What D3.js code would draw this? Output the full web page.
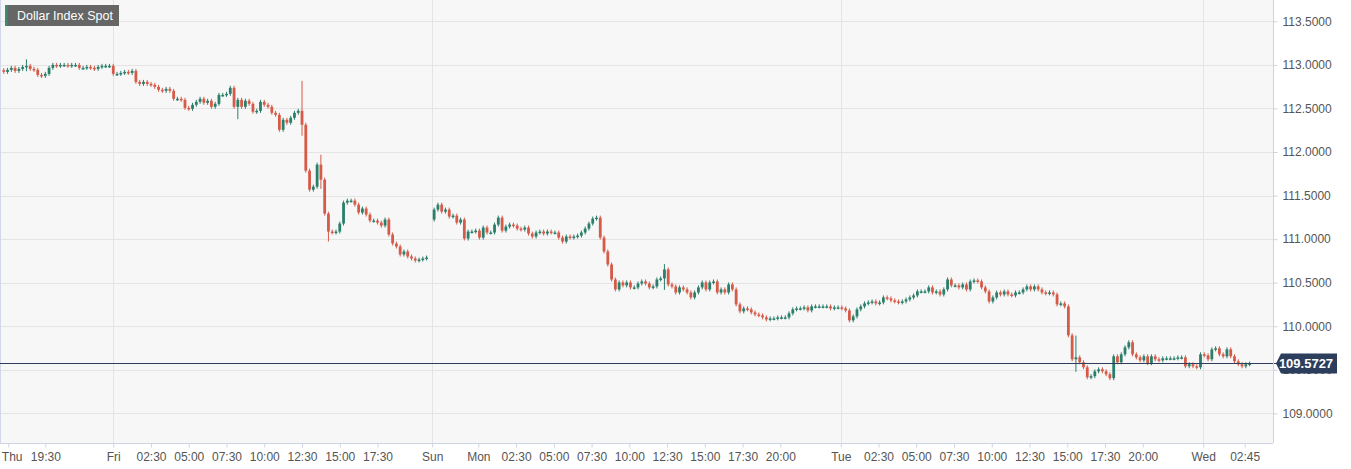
<!DOCTYPE html>
<html>
<head>
<meta charset="utf-8">
<script src="https://cdn.jsdelivr.net/npm/d3@7"></script>
<style>
  body { margin: 0; background: #fff; }
  svg { display: block; font-family: "Liberation Sans", Arial, sans-serif; }
</style>
</head>
<body>
<svg id="chart" width="1351" height="469"></svg>
<script>
// closes, 15 min candles. Thu evening + Fri (slots -29..83)
const thuCloses = [112.92,112.943,112.966,112.931,112.954,112.977,112.989,112.954,112.943,112.885,
  112.874,112.897,112.966,113.0,112.989,113.0,113.0,112.989,113.0,113.0,
  112.966,112.966,112.977,112.966,112.954,112.977,112.989,112.989,112.989];
const friCloses = [112.897,112.897,112.908,112.92,112.908,112.931,112.805,112.782,112.805,112.782,
  112.771,112.748,112.714,112.702,112.725,112.702,112.611,112.611,112.599,112.507,
  112.496,112.542,112.576,112.611,112.565,112.588,112.519,112.553,112.656,112.656,
  112.668,112.737,112.519,112.599,112.519,112.588,112.553,112.462,112.473,112.576,
  112.542,112.519,112.45,112.427,112.255,112.37,112.336,112.393,112.45,112.473,
  112.313,111.786,111.568,111.602,111.855,111.683,111.293,111.087,111.076,111.087,
  111.179,111.419,111.442,111.442,111.396,111.305,111.351,111.282,111.213,111.213,
  111.19,111.156,111.225,111.053,110.95,110.915,110.824,110.858,110.801,110.778,
  110.755,110.766,110.778,110.789];
// Sun evening .. Wed morning
const weekCloses = [111.339,111.396,111.316,111.339,111.259,111.270,111.190,111.225,111.007,111.087,
  111.087,111.098,111.018,111.133,111.076,111.076,111.167,111.247,111.098,111.144,
  111.167,111.156,111.121,111.110,111.133,111.064,111.030,111.076,111.087,111.064,
  111.087,111.076,111.076,111.018,110.972,111.030,111.018,111.030,111.041,111.076,
  111.121,111.179,111.236,111.247,111.018,110.858,110.709,110.537,110.423,110.503,
  110.469,110.503,110.446,110.446,110.491,110.514,110.491,110.446,110.457,110.537,
  110.549,110.652,110.480,110.457,110.388,110.446,110.423,110.388,110.331,110.388,
  110.446,110.503,110.423,110.503,110.514,110.388,110.423,110.388,110.480,110.423,
  110.251,110.171,110.205,110.194,110.159,110.136,110.125,110.102,110.079,110.090,
  110.090,110.102,110.102,110.102,110.148,110.194,110.205,110.205,110.217,110.182,
  110.228,110.228,110.228,110.228,110.228,110.205,110.217,110.217,
  110.205,110.182,110.068,110.113,110.194,110.228,110.262,110.274,110.285,110.262,
  110.274,110.331,110.320,110.297,110.285,110.274,110.285,110.308,110.331,110.354,
  110.400,110.400,110.400,110.446,110.388,110.400,110.365,110.423,110.537,110.469,
  110.469,110.446,110.480,110.423,110.514,110.526,110.514,110.446,110.400,110.285,
  110.331,110.388,110.365,110.400,110.365,110.354,110.388,110.388,110.423,110.457,
  110.423,110.457,110.423,110.388,110.377,110.388,110.365,110.251,110.262,110.228,
  109.896,109.621,109.643,109.587,109.529,109.415,109.427,109.483,109.506,109.483,
  109.449,109.404,109.655,109.587,109.678,109.758,109.816,109.678,109.643,109.609,
  109.655,109.576,109.655,109.621,109.609,109.632,109.632,109.632,109.632,109.643,
  109.643,109.541,109.564,109.541,109.529,109.678,109.666,109.621,109.735,109.747,
  109.678,109.655,109.735,109.655,109.598,109.564,109.541,109.564,109.5727];
const firstOpen = 112.94;
const sunOpen = 111.225;
// notable wicks: [candle index, high, low]
const wicks = [[79, 112.794, 112.21], [84, 111.946, 111.60], [86, 111.20, 110.995],
  [6, 113.04, 112.95], [62, 112.55, 112.40], [112 + 62, 110.69, 110.44], [112 + 171, 109.87, 109.5]];
const lastPrice = 109.5727;
const priceTicks = [109, 109.5, 110, 110.5, 111, 111.5, 112, 112.5, 113, 113.5];
const timeTicks = [[-27.8,"Thu"],[-18,"19:30"],[0,"Fri"],[10,"02:30"],[20,"05:00"],[30,"07:30"],[40,"10:00"],
  [50,"12:30"],[60,"15:00"],[70,"17:30"],[84.5,"Sun"],[96.7,"Mon"],[106.7,"02:30"],[116.7,"05:00"],
  [126.7,"07:30"],[136.7,"10:00"],[146.7,"12:30"],[156.7,"15:00"],[166.7,"17:30"],[176.7,"20:00"],
  [192.7,"Tue"],[202.7,"02:30"],[212.7,"05:00"],[222.7,"07:30"],[232.7,"10:00"],[242.7,"12:30"],
  [252.7,"15:00"],[262.7,"17:30"],[272.7,"20:00"],[288.7,"Wed"],[299.7,"02:45"]];
const dayLines = [0, 84.5, 192.7, 288.7];

// build candles
const candles = [];
let prev = firstOpen;
thuCloses.concat(friCloses).forEach((c, i) => {
  candles.push({ slot: i - 29, o: prev, c: c });
  prev = c;
});
prev = sunOpen;
weekCloses.forEach((c, k) => {
  candles.push({ slot: 85 + k, o: prev, c: c });
  prev = c;
});
candles.forEach(d => { d.h = Math.max(d.o, d.c); d.l = Math.min(d.o, d.c); });
wicks.forEach(w => { const d = candles[w[0]]; if (d) { d.h = Math.max(d.h, w[1]); d.l = Math.min(d.l, w[2]); } });

const W = 1273, H = 443;
const svg = d3.select("#chart");
const x = d3.scaleLinear().domain([-30, 307.2]).range([0, W]);
const y = d3.scaleLinear().domain([108.66, 113.745]).range([H, 0]);

svg.append("rect").attr("width", W).attr("height", H).attr("fill", "#f7f7f7");

// grid
svg.append("g").selectAll("line").data(priceTicks).enter().append("line")
  .attr("x1", 0).attr("x2", W).attr("y1", d => Math.round(y(d)) + 0.5).attr("y2", d => Math.round(y(d)) + 0.5)
  .attr("stroke", "#e4e4e4");
svg.append("g").selectAll("line").data(dayLines).enter().append("line")
  .attr("x1", d => Math.round(x(d)) + 0.5).attr("x2", d => Math.round(x(d)) + 0.5)
  .attr("y1", 0).attr("y2", H).attr("stroke", "#e4e4e4");
svg.append("line").attr("x1", 0.5).attr("x2", 0.5).attr("y1", 0).attr("y2", H).attr("stroke", "#d3d8e8");

// candles
const up = "#2a7f6b", dn = "#d65a48";
const g = svg.append("g");
g.selectAll("line.wick").data(candles).enter().append("line")
  .attr("x1", d => x(d.slot)).attr("x2", d => x(d.slot))
  .attr("y1", d => y(d.h) - 2).attr("y2", d => y(d.l) + 2)
  .attr("stroke", d => d.c >= d.o ? up : dn).attr("stroke-width", 1);
g.selectAll("rect").data(candles).enter().append("rect")
  .attr("x", d => x(d.slot) - 1.4).attr("width", 2.8)
  .attr("y", d => y(Math.max(d.o, d.c)))
  .attr("height", d => Math.max(1.5, Math.abs(y(d.o) - y(d.c))))
  .attr("fill", d => d.c >= d.o ? up : dn);

// last price line
svg.append("line").attr("x1", 0).attr("x2", W + 4)
  .attr("y1", Math.round(y(lastPrice)) + 0.5).attr("y2", Math.round(y(lastPrice)) + 0.5)
  .attr("stroke", "#2c3e5c");

// axes
const yAxis = d3.axisRight(y).tickValues(priceTicks).tickFormat(d3.format(".4f")).tickSize(4).tickPadding(5);
const ya = svg.append("g").attr("transform", `translate(${W + 0.5},0)`).call(yAxis);
const xAxis = d3.axisBottom(x).tickValues(timeTicks.map(t => t[0]))
  .tickFormat((d, i) => timeTicks[i][1]).tickSize(4).tickPadding(5);
const xa = svg.append("g").attr("transform", `translate(0,${H + 0.5})`).call(xAxis);
[ya, xa].forEach(a => {
  a.select(".domain").attr("stroke", "#cdd3e4");
  a.selectAll(".tick line").attr("stroke", "#cdd3e4");
  a.selectAll("text").attr("fill", "#555").attr("font-size", 12);
});
ya.select(".domain").attr("d", `M0,0V${H}`);
xa.select(".domain").attr("d", `M0,0H${W}`);
xa.select(".tick text").attr("text-anchor", "start").attr("x", -7);

// price label
const py = y(lastPrice);
svg.append("path").attr("d", `M${W + 3},${py} L${W + 8},${py - 10} H1337 V${py + 10} H${W + 8} Z`).attr("fill", "#2c3e5c");
svg.append("text").attr("x", 1306).attr("y", py + 5).attr("text-anchor", "middle")
  .attr("fill", "#fff").attr("font-size", 13).attr("font-weight", "bold").text(d3.format(".4f")(lastPrice));

// title
svg.append("rect").attr("x", 5).attr("y", 5).attr("width", 114).attr("height", 21).attr("fill", "#666");
svg.append("rect").attr("x", 5).attr("y", 5).attr("width", 2.5).attr("height", 21).attr("fill", "#3a8f72");
svg.append("text").attr("x", 17).attr("y", 20).attr("fill", "#fff").attr("font-size", 12.5).text("Dollar Index Spot");
</script>
</body>
</html>
